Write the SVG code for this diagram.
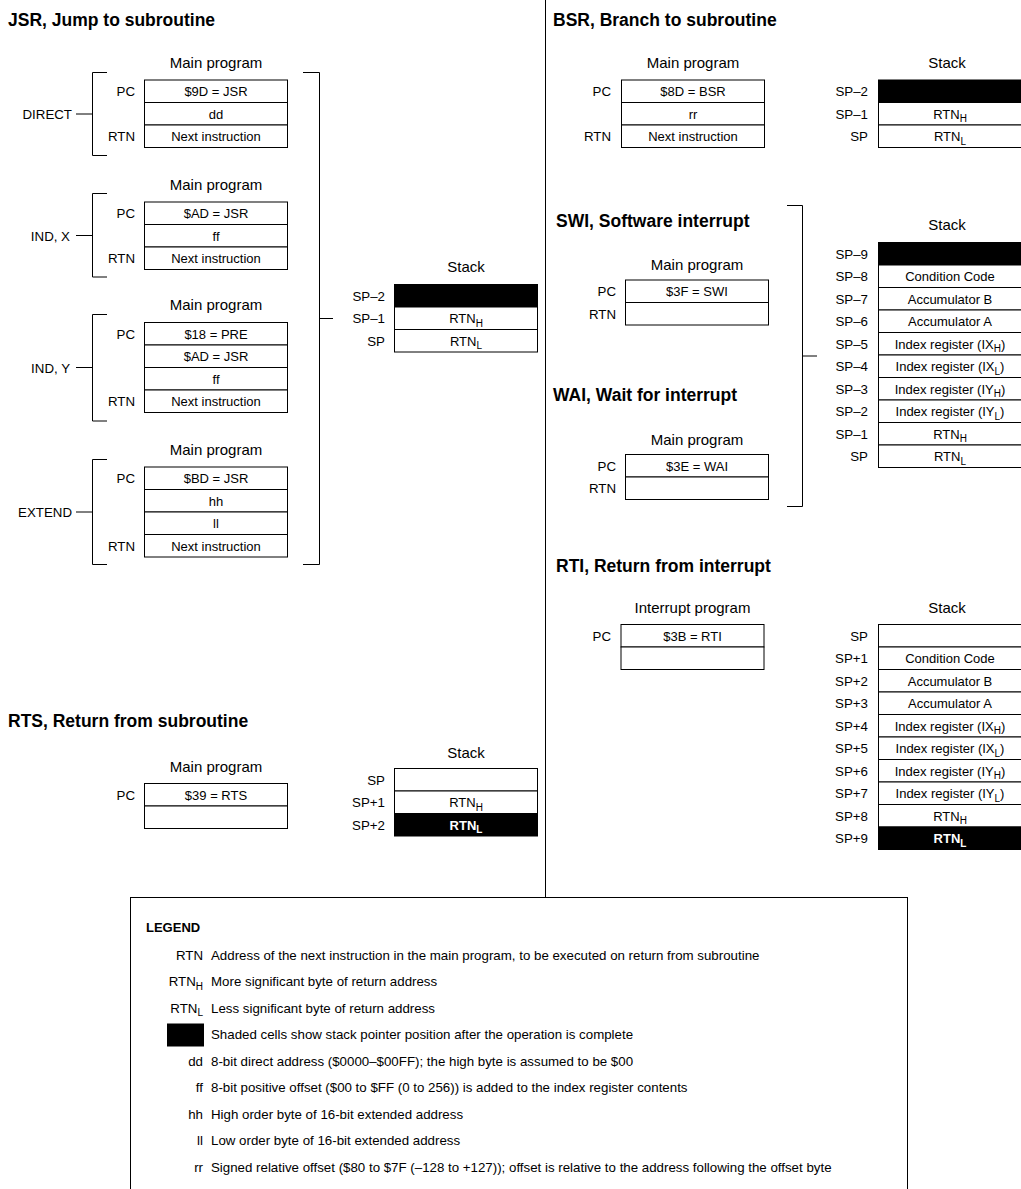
<svg xmlns="http://www.w3.org/2000/svg" width="1021" height="1189" viewBox="0 0 1021 1189">
<style>
text { font-family: "Liberation Sans", Arial, sans-serif; fill: #000; }
.ttl { font-size: 17.5px; font-weight: bold; }
.hd { font-size: 15px; text-anchor: middle; }
.lb { font-size: 13.3px; text-anchor: end; }
.cv { font-size: 13px; text-anchor: middle; }
.cw { font-size: 13px; text-anchor: middle; fill: #fff; font-weight: bold; }
.sub { font-size: 10px; }
.cell { fill: #fff; stroke: #000; stroke-width: 1; }
.blk { fill: #000; stroke: #000; stroke-width: 1; }
.ln { fill: none; stroke: #000; stroke-width: 1; }
.lg { font-size: 13.3px; }
.lgl { font-size: 13.3px; text-anchor: end; }
.lgh { font-size: 13px; font-weight: bold; }
</style>

<g id="connectors">
  <path class="ln" d="M545.5 0 V897"/>
  <path class="ln" d="M107 72.5 H92.5 V155.5 H107 M76 114 H92.5"/>
  <path class="ln" d="M107 193.5 H92.5 V277 H107 M76 235.5 H92.5"/>
  <path class="ln" d="M107 314.5 H92.5 V421 H107 M76 367.5 H92.5"/>
  <path class="ln" d="M107 459.5 H92.5 V564.5 H107 M76 512 H92.5"/>
  <path class="ln" d="M303 72.5 H319.5 V564.5 H303 M319.5 318.5 H333"/>
  <path class="ln" d="M787 205.5 H802.5 V506.5 H787 M802.5 356 H817"/>
</g>

<g id="jsr">
  <text class="ttl" x="8" y="26">JSR, Jump to subroutine</text>
  <g id="jsr-direct">
    <text class="hd" x="216" y="68">Main program</text>
    <rect class="cell" x="144.5" y="80" width="143" height="22.5"/>
    <rect class="cell" x="144.5" y="102.5" width="143" height="22.5"/>
    <rect class="cell" x="144.5" y="125" width="143" height="22.5"/>
    <text class="cv" x="216" y="96">$9D = JSR</text>
    <text class="cv" x="216" y="118.5">dd</text>
    <text class="cv" x="216" y="141">Next instruction</text>
    <text class="lb" x="135" y="96">PC</text>
    <text class="lb" x="135" y="141">RTN</text>
    <text class="lb" x="72" y="119">DIRECT</text>
  </g>
  <g id="jsr-indx">
    <text class="hd" x="216" y="190">Main program</text>
    <rect class="cell" x="144.5" y="202" width="143" height="22.5"/>
    <rect class="cell" x="144.5" y="224.5" width="143" height="22.5"/>
    <rect class="cell" x="144.5" y="247" width="143" height="22.5"/>
    <text class="cv" x="216" y="218">$AD = JSR</text>
    <text class="cv" x="216" y="240.5">ff</text>
    <text class="cv" x="216" y="263">Next instruction</text>
    <text class="lb" x="135" y="218">PC</text>
    <text class="lb" x="135" y="263">RTN</text>
    <text class="lb" x="70" y="240.5">IND, X</text>
  </g>
  <g id="jsr-indy">
    <text class="hd" x="216" y="310">Main program</text>
    <rect class="cell" x="144.5" y="322.5" width="143" height="22.5"/>
    <rect class="cell" x="144.5" y="345" width="143" height="22.5"/>
    <rect class="cell" x="144.5" y="367.5" width="143" height="22.5"/>
    <rect class="cell" x="144.5" y="390" width="143" height="22.5"/>
    <text class="cv" x="216" y="338.5">$18 = PRE</text>
    <text class="cv" x="216" y="361">$AD = JSR</text>
    <text class="cv" x="216" y="383.5">ff</text>
    <text class="cv" x="216" y="406">Next instruction</text>
    <text class="lb" x="135" y="338.5">PC</text>
    <text class="lb" x="135" y="406">RTN</text>
    <text class="lb" x="70" y="372.5">IND, Y</text>
  </g>
  <g id="jsr-extend">
    <text class="hd" x="216" y="455">Main program</text>
    <rect class="cell" x="144.5" y="467" width="143" height="22.5"/>
    <rect class="cell" x="144.5" y="489.5" width="143" height="22.5"/>
    <rect class="cell" x="144.5" y="512" width="143" height="22.5"/>
    <rect class="cell" x="144.5" y="534.5" width="143" height="22.5"/>
    <text class="cv" x="216" y="483">$BD = JSR</text>
    <text class="cv" x="216" y="505.5">hh</text>
    <text class="cv" x="216" y="528">ll</text>
    <text class="cv" x="216" y="550.5">Next instruction</text>
    <text class="lb" x="135" y="483">PC</text>
    <text class="lb" x="135" y="550.5">RTN</text>
    <text class="lb" x="72" y="517">EXTEND</text>
  </g>
  <g id="jsr-stack">
    <text class="hd" x="466" y="272">Stack</text>
    <rect class="blk" x="394.5" y="284.5" width="143" height="22.5"/>
    <rect class="cell" x="394.5" y="307" width="143" height="22.5"/>
    <rect class="cell" x="394.5" y="329.5" width="143" height="22.5"/>
    <text class="cv" x="466" y="323">RTN<tspan class="sub" dy="3.5">H</tspan></text>
    <text class="cv" x="466" y="345.5">RTN<tspan class="sub" dy="3.5">L</tspan></text>
    <text class="lb" x="385" y="300.5">SP–2</text>
    <text class="lb" x="385" y="323">SP–1</text>
    <text class="lb" x="385" y="345.5">SP</text>
  </g>
</g>

<g id="bsr">
  <text class="ttl" x="553" y="26">BSR, Branch to subroutine</text>
  <g id="bsr-main">
    <text class="hd" x="693" y="68">Main program</text>
    <rect class="cell" x="621.5" y="80" width="143" height="22.5"/>
    <rect class="cell" x="621.5" y="102.5" width="143" height="22.5"/>
    <rect class="cell" x="621.5" y="125" width="143" height="22.5"/>
    <text class="cv" x="693" y="96">$8D = BSR</text>
    <text class="cv" x="693" y="118.5">rr</text>
    <text class="cv" x="693" y="141">Next instruction</text>
    <text class="lb" x="611" y="96">PC</text>
    <text class="lb" x="611" y="141">RTN</text>
  </g>
  <g id="bsr-stack">
    <text class="hd" x="947" y="68">Stack</text>
    <rect class="blk" x="878.5" y="80" width="144" height="22.5"/>
    <rect class="cell" x="878.5" y="102.5" width="144" height="22.5"/>
    <rect class="cell" x="878.5" y="125" width="144" height="22.5"/>
    <text class="cv" x="950" y="118.5">RTN<tspan class="sub" dy="3.5">H</tspan></text>
    <text class="cv" x="950" y="141">RTN<tspan class="sub" dy="3.5">L</tspan></text>
    <text class="lb" x="868" y="96">SP–2</text>
    <text class="lb" x="868" y="118.5">SP–1</text>
    <text class="lb" x="868" y="141">SP</text>
  </g>
</g>

<g id="swi">
  <text class="ttl" x="556" y="227">SWI, Software interrupt</text>
  <text class="hd" x="697" y="270">Main program</text>
  <rect class="cell" x="625.5" y="280" width="143" height="22.5"/>
  <rect class="cell" x="625.5" y="302.5" width="143" height="22.5"/>
  <text class="cv" x="697" y="296">$3F = SWI</text>
  <text class="lb" x="616" y="296">PC</text>
  <text class="lb" x="616" y="318.5">RTN</text>
</g>

<g id="wai">
  <text class="ttl" x="553" y="401">WAI, Wait for interrupt</text>
  <text class="hd" x="697" y="445">Main program</text>
  <rect class="cell" x="625.5" y="454.5" width="143" height="22.5"/>
  <rect class="cell" x="625.5" y="477" width="143" height="22.5"/>
  <text class="cv" x="697" y="470.5">$3E = WAI</text>
  <text class="lb" x="616" y="470.5">PC</text>
  <text class="lb" x="616" y="493">RTN</text>
</g>

<g id="swi-stack">
  <text class="hd" x="947" y="230">Stack</text>
  <rect class="blk" x="878.5" y="242.5" width="144" height="22.5"/>
  <rect class="cell" x="878.5" y="265" width="144" height="22.5"/>
  <rect class="cell" x="878.5" y="287.5" width="144" height="22.5"/>
  <rect class="cell" x="878.5" y="310" width="144" height="22.5"/>
  <rect class="cell" x="878.5" y="332.5" width="144" height="22.5"/>
  <rect class="cell" x="878.5" y="355" width="144" height="22.5"/>
  <rect class="cell" x="878.5" y="377.5" width="144" height="22.5"/>
  <rect class="cell" x="878.5" y="400" width="144" height="22.5"/>
  <rect class="cell" x="878.5" y="422.5" width="144" height="22.5"/>
  <rect class="cell" x="878.5" y="445" width="144" height="22.5"/>
  <text class="cv" x="950" y="281">Condition Code</text>
  <text class="cv" x="950" y="303.5">Accumulator B</text>
  <text class="cv" x="950" y="326">Accumulator A</text>
  <text class="cv" x="950" y="348.5">Index register (IX<tspan class="sub" dy="3.5">H</tspan><tspan dy="-3.5">)</tspan></text>
  <text class="cv" x="950" y="371">Index register (IX<tspan class="sub" dy="3.5">L</tspan><tspan dy="-3.5">)</tspan></text>
  <text class="cv" x="950" y="393.5">Index register (IY<tspan class="sub" dy="3.5">H</tspan><tspan dy="-3.5">)</tspan></text>
  <text class="cv" x="950" y="416">Index register (IY<tspan class="sub" dy="3.5">L</tspan><tspan dy="-3.5">)</tspan></text>
  <text class="cv" x="950" y="438.5">RTN<tspan class="sub" dy="3.5">H</tspan></text>
  <text class="cv" x="950" y="461">RTN<tspan class="sub" dy="3.5">L</tspan></text>
  <text class="lb" x="868" y="258.5">SP–9</text>
  <text class="lb" x="868" y="281">SP–8</text>
  <text class="lb" x="868" y="303.5">SP–7</text>
  <text class="lb" x="868" y="326">SP–6</text>
  <text class="lb" x="868" y="348.5">SP–5</text>
  <text class="lb" x="868" y="371">SP–4</text>
  <text class="lb" x="868" y="393.5">SP–3</text>
  <text class="lb" x="868" y="416">SP–2</text>
  <text class="lb" x="868" y="438.5">SP–1</text>
  <text class="lb" x="868" y="461">SP</text>
</g>

<g id="rti">
  <text class="ttl" x="556" y="572">RTI, Return from interrupt</text>
  <text class="hd" x="692.5" y="613">Interrupt program</text>
  <rect class="cell" x="621" y="624.5" width="143" height="22.5"/>
  <rect class="cell" x="621" y="647" width="143" height="22.5"/>
  <text class="cv" x="692.5" y="640.5">$3B = RTI</text>
  <text class="lb" x="611" y="640.5">PC</text>
</g>

<g id="rti-stack">
  <text class="hd" x="947" y="613">Stack</text>
  <rect class="cell" x="878.5" y="624.5" width="144" height="22.5"/>
  <rect class="cell" x="878.5" y="647" width="144" height="22.5"/>
  <rect class="cell" x="878.5" y="669.5" width="144" height="22.5"/>
  <rect class="cell" x="878.5" y="692" width="144" height="22.5"/>
  <rect class="cell" x="878.5" y="714.5" width="144" height="22.5"/>
  <rect class="cell" x="878.5" y="737" width="144" height="22.5"/>
  <rect class="cell" x="878.5" y="759.5" width="144" height="22.5"/>
  <rect class="cell" x="878.5" y="782" width="144" height="22.5"/>
  <rect class="cell" x="878.5" y="804.5" width="144" height="22.5"/>
  <rect class="blk" x="878.5" y="827" width="144" height="22.5"/>
  <text class="cv" x="950" y="663">Condition Code</text>
  <text class="cv" x="950" y="685.5">Accumulator B</text>
  <text class="cv" x="950" y="708">Accumulator A</text>
  <text class="cv" x="950" y="730.5">Index register (IX<tspan class="sub" dy="3.5">H</tspan><tspan dy="-3.5">)</tspan></text>
  <text class="cv" x="950" y="753">Index register (IX<tspan class="sub" dy="3.5">L</tspan><tspan dy="-3.5">)</tspan></text>
  <text class="cv" x="950" y="775.5">Index register (IY<tspan class="sub" dy="3.5">H</tspan><tspan dy="-3.5">)</tspan></text>
  <text class="cv" x="950" y="798">Index register (IY<tspan class="sub" dy="3.5">L</tspan><tspan dy="-3.5">)</tspan></text>
  <text class="cv" x="950" y="820.5">RTN<tspan class="sub" dy="3.5">H</tspan></text>
  <text class="cw" x="950" y="843">RTN<tspan class="sub" dy="3.5">L</tspan></text>
  <text class="lb" x="868" y="640.5">SP</text>
  <text class="lb" x="868" y="663">SP+1</text>
  <text class="lb" x="868" y="685.5">SP+2</text>
  <text class="lb" x="868" y="708">SP+3</text>
  <text class="lb" x="868" y="730.5">SP+4</text>
  <text class="lb" x="868" y="753">SP+5</text>
  <text class="lb" x="868" y="775.5">SP+6</text>
  <text class="lb" x="868" y="798">SP+7</text>
  <text class="lb" x="868" y="820.5">SP+8</text>
  <text class="lb" x="868" y="843">SP+9</text>
</g>

<g id="rts">
  <text class="ttl" x="8" y="727">RTS, Return from subroutine</text>
  <text class="hd" x="216" y="772">Main program</text>
  <rect class="cell" x="144.5" y="783.5" width="143" height="22.5"/>
  <rect class="cell" x="144.5" y="806" width="143" height="22.5"/>
  <text class="cv" x="216" y="799.5">$39 = RTS</text>
  <text class="lb" x="135" y="799.5">PC</text>
</g>

<g id="rts-stack">
  <text class="hd" x="466" y="758">Stack</text>
  <rect class="cell" x="394.5" y="768.5" width="143" height="22.5"/>
  <rect class="cell" x="394.5" y="791" width="143" height="22.5"/>
  <rect class="blk" x="394.5" y="813.5" width="143" height="22.5"/>
  <text class="cv" x="466" y="807">RTN<tspan class="sub" dy="3.5">H</tspan></text>
  <text class="cw" x="466" y="829.5">RTN<tspan class="sub" dy="3.5">L</tspan></text>
  <text class="lb" x="385" y="784.5">SP</text>
  <text class="lb" x="385" y="807">SP+1</text>
  <text class="lb" x="385" y="829.5">SP+2</text>
</g>

<g id="legend">
  <rect class="cell" x="130.5" y="897.5" width="777" height="310"/>
  <text class="lgh" x="146" y="932">LEGEND</text>
  <text class="lgl" x="203" y="959.5">RTN</text>
  <text class="lg" x="211" y="959.5">Address of the next instruction in the main program, to be executed on return from subroutine</text>
  <text class="lgl" x="203" y="986">RTN<tspan class="sub" dy="3.5">H</tspan></text>
  <text class="lg" x="211" y="986">More significant byte of return address</text>
  <text class="lgl" x="203" y="1012.5">RTN<tspan class="sub" dy="3.5">L</tspan></text>
  <text class="lg" x="211" y="1012.5">Less significant byte of return address</text>
  <rect x="167" y="1023.5" width="37" height="23" fill="#000"/>
  <text class="lg" x="211" y="1039">Shaded cells show stack pointer position after the operation is complete</text>
  <text class="lgl" x="203" y="1065.5">dd</text>
  <text class="lg" x="211" y="1065.5">8-bit direct address ($0000–$00FF); the high byte is assumed to be $00</text>
  <text class="lgl" x="203" y="1092">ff</text>
  <text class="lg" x="211" y="1092">8-bit positive offset ($00 to $FF (0 to 256)) is added to the index register contents</text>
  <text class="lgl" x="203" y="1118.5">hh</text>
  <text class="lg" x="211" y="1118.5">High order byte of 16-bit extended address</text>
  <text class="lgl" x="203" y="1145">ll</text>
  <text class="lg" x="211" y="1145">Low order byte of 16-bit extended address</text>
  <text class="lgl" x="203" y="1171.5">rr</text>
  <text class="lg" x="211" y="1171.5">Signed relative offset ($80 to $7F (–128 to +127)); offset is relative to the address following the offset byte</text>
</g>
</svg>
